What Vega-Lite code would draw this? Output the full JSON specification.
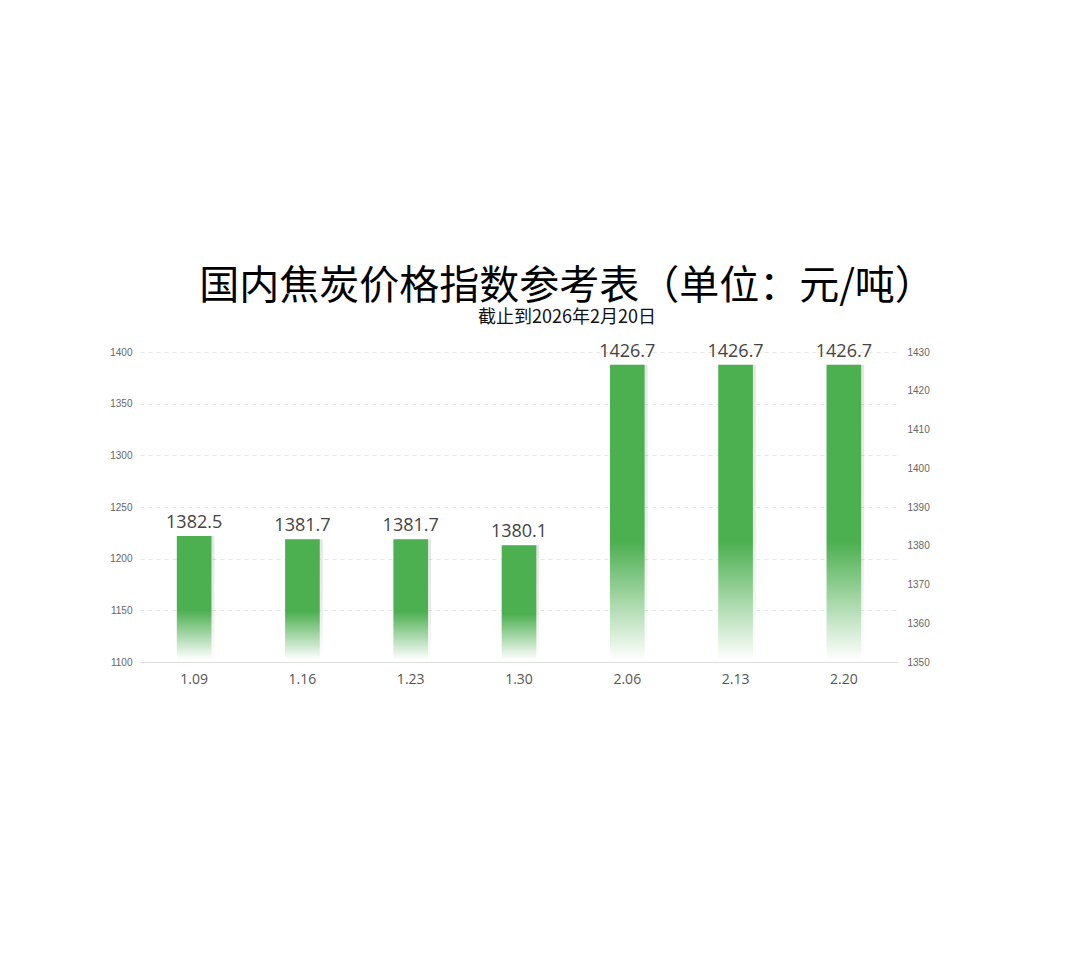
{
  "$schema": "https://vega.github.io/schema/vega-lite/v6.json",
  "autosize": {"type": "none"},
  "width": 758,
  "height": 310,
  "padding": {"left": 140, "top": 352, "right": 182, "bottom": 295},
  "background": "white",
  "title": {
    "text": "国内焦炭价格指数参考表（单位：元/吨）",
    "subtitle": "截止到2026年2月20日",
    "font": "Noto Sans CJK SC",
    "fontSize": 40,
    "fontWeight": "normal",
    "color": "#000000",
    "subtitleFont": "Noto Sans CJK SC",
    "subtitleFontSize": 18,
    "subtitleColor": "#111111",
    "subtitlePadding": 2,
    "anchor": "middle",
    "frame": "group",
    "dx": 48,
    "offset": 16
  },
  "data": {
    "values": [
      {"date": "1.09", "value": 1382.5},
      {"date": "1.16", "value": 1381.7},
      {"date": "1.23", "value": 1381.7},
      {"date": "1.30", "value": 1380.1},
      {"date": "2.06", "value": 1426.7},
      {"date": "2.13", "value": 1426.7},
      {"date": "2.20", "value": 1426.7}
    ]
  },
  "config": {
    "view": {"stroke": null},
    "axis": {"labelFont": "Liberation Sans", "ticks": false, "domain": false}
  },
  "encoding": {
    "x": {
      "field": "date",
      "type": "ordinal",
      "sort": null,
      "scale": {"paddingInner": 0.68, "paddingOuter": 0.34},
      "axis": {
        "title": null,
        "labelAngle": 0,
        "labelFont": "Open Sans",
        "labelFontSize": 14,
        "labelColor": "#555555",
        "labelPadding": 10,
        "domain": true,
        "domainColor": "#dddddd",
        "domainWidth": 1,
        "ticks": false,
        "grid": false
      }
    }
  },
  "layer": [
    {
      "mark": {"type": "point", "opacity": 0},
      "encoding": {
        "y": {
          "field": "value",
          "type": "quantitative",
          "scale": {"domain": [1100, 1400], "zero": false, "nice": false, "clamp": true},
          "axis": {
            "orient": "left",
            "title": null,
            "format": "d",
            "values": [1100, 1150, 1200, 1250, 1300, 1350, 1400],
            "labelFontSize": 10,
            "labelColor": "#666666",
            "labelPadding": 8,
            "grid": true,
            "gridColor": "#e6e6e6",
            "gridDash": [4, 4],
            "gridWidth": 1
          }
        }
      }
    },
    {
      "encoding": {
        "y": {
          "field": "value",
          "type": "quantitative",
          "scale": {"domain": [1350, 1430], "zero": false, "nice": false},
          "axis": {
            "orient": "right",
            "title": null,
            "format": "d",
            "values": [1350, 1360, 1370, 1380, 1390, 1400, 1410, 1420, 1430],
            "labelFontSize": 10,
            "labelColor": "#666666",
            "labelPadding": 9,
            "grid": false
          }
        },
        "y2": {"datum": 1350.6}
      },
      "layer": [
        {
          "mark": {
            "type": "bar",
            "xOffset": 3,
            "color": {
              "gradient": "linear",
              "x1": 0, "y1": 0, "x2": 0, "y2": 1,
              "stops": [
                {"offset": 0, "color": "rgba(0,0,0,0.10)"},
                {"offset": 0.6, "color": "rgba(0,0,0,0.08)"},
                {"offset": 1, "color": "rgba(0,0,0,0)"}
              ]
            }
          }
        },
        {
          "mark": {
            "type": "bar",
            "color": {
              "gradient": "linear",
              "x1": 0, "y1": 0, "x2": 0, "y2": 1,
              "stops": [
                {"offset": 0, "color": "#4caf50"},
                {"offset": 0.6, "color": "#4caf50"},
                {"offset": 1, "color": "#ffffff"}
              ]
            }
          }
        },
        {
          "mark": {
            "type": "text",
            "font": "Open Sans",
            "fontSize": 18,
            "color": "#444444",
            "baseline": "alphabetic",
            "dy": -8
          },
          "encoding": {
            "y2": null,
            "text": {"field": "value", "type": "quantitative", "format": ".1f"}
          }
        }
      ]
    }
  ],
  "resolve": {"scale": {"y": "independent"}, "axis": {"y": "independent"}}
}
